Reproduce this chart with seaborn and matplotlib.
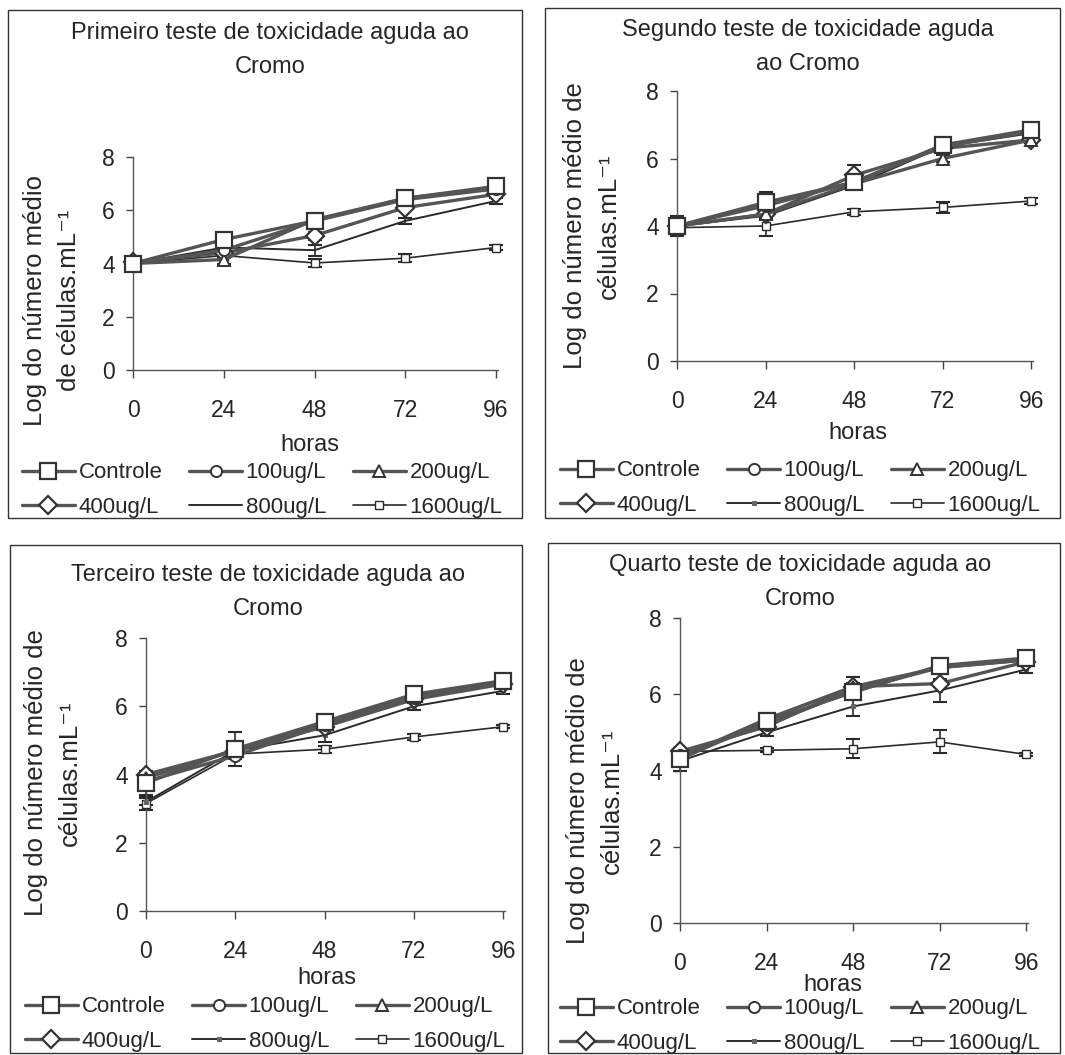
import numpy as np
import pandas as pd
import matplotlib.pyplot as plt
import seaborn as sns
from matplotlib.patches import Rectangle

sns.set_style("white")
plt.rcParams['font.family'] = ['Liberation Sans', 'DejaVu Sans']

horas = [0, 24, 48, 72, 96]
series = ["Controle", "100ug/L", "200ug/L", "400ug/L", "800ug/L", "1600ug/L"]

# mean log cell counts, one row per series (same order as `series`)
teste1 = [[4.0, 4.9, 5.6, 6.45, 6.9],
          [4.0, 4.5, 5.6, 6.4, 6.8],
          [4.0, 4.15, 5.65, 6.45, 6.85],
          [4.05, 4.4, 5.05, 6.1, 6.6],
          [4.0, 4.6, 4.5, 5.6, 6.35],
          [4.0, 4.3, 4.02, 4.2, 4.6]]
teste2 = [[4.0, 4.7, 5.3, 6.4, 6.85],
          [4.0, 4.6, 5.3, 6.35, 6.8],
          [4.0, 4.35, 5.25, 6.0, 6.55],
          [4.0, 4.35, 5.5, 6.3, 6.55],
          [4.0, 4.3, 5.2, 6.35, 6.75],
          [3.95, 4.0, 4.42, 4.55, 4.74]]
teste3 = [[3.75, 4.75, 5.55, 6.35, 6.75],
          [3.8, 4.55, 5.45, 6.25, 6.7],
          [3.9, 4.7, 5.5, 6.3, 6.7],
          [4.0, 4.7, 5.4, 6.2, 6.65],
          [3.2, 4.7, 5.15, 6.0, 6.45],
          [3.15, 4.6, 4.74, 5.1, 5.4]]
teste4 = [[4.3, 5.3, 6.05, 6.75, 6.95],
          [4.4, 5.2, 6.1, 6.7, 6.9],
          [4.35, 5.35, 6.2, 6.7, 6.9],
          [4.5, 5.15, 6.2, 6.28, 6.85],
          [4.25, 5.0, 5.68, 6.1, 6.65],
          [4.5, 4.53, 4.57, 4.75, 4.42]]

# error bar half-widths
erro1 = [[0.15, 0.1, 0.1, 0.1, 0.1],
         [0.1, 0.1, 0.1, 0.1, 0.1],
         [0.1, 0.15, 0.1, 0.1, 0.1],
         [0.1, 0.1, 0.15, 0.1, 0.1],
         [0.1, 0.1, 0.2, 0.1, 0.1],
         [0.1, 0.1, 0.15, 0.15, 0.08]]
erro2 = [[0.3, 0.3, 0.1, 0.1, 0.1],
         [0.1, 0.1, 0.1, 0.1, 0.1],
         [0.1, 0.1, 0.1, 0.1, 0.1],
         [0.1, 0.1, 0.3, 0.1, 0.1],
         [0.1, 0.1, 0.1, 0.1, 0.1],
         [0.1, 0.3, 0.08, 0.15, 0.08]]
erro3 = [[0.35, 0.5, 0.1, 0.1, 0.1],
         [0.1, 0.1, 0.1, 0.1, 0.1],
         [0.1, 0.1, 0.1, 0.1, 0.1],
         [0.1, 0.1, 0.1, 0.1, 0.1],
         [0.1, 0.1, 0.2, 0.1, 0.1],
         [0.2, 0.1, 0.1, 0.1, 0.05]]
erro4 = [[0.3, 0.15, 0.1, 0.15, 0.1],
         [0.1, 0.1, 0.1, 0.1, 0.1],
         [0.1, 0.15, 0.1, 0.15, 0.1],
         [0.1, 0.1, 0.25, 0.1, 0.1],
         [0.1, 0.1, 0.25, 0.3, 0.1],
         [0.1, 0.05, 0.25, 0.3, 0.05]]

titulos = ["Primeiro teste de toxicidade aguda ao\nCromo",
           "Segundo teste de toxicidade aguda\nao Cromo",
           "Terceiro teste de toxicidade aguda ao\nCromo",
           "Quarto teste de toxicidade aguda ao\nCromo"]
ylabels = ["Log do número médio\nde células.mL⁻¹",
           "Log do número médio de\ncélulas.mL⁻¹",
           "Log do número médio de\ncélulas.mL⁻¹",
           "Log do número médio de\ncélulas.mL⁻¹"]

W, H = 1065, 1055
fig = plt.figure(figsize=(W / 100, H / 100), dpi=100)

def fx(px):
    return px / W

def fy(py):
    return 1 - py / H

# pixel layout: axes box (l, r, top, bottom), border box, text anchors
paineis = [
    dict(ax=(133, 498, 157, 370), box=(8, 522, 10, 518), tit=(270, 50),
         yl=(52, 300), xl=(310, 445), leg=(262, 490), dados=teste1, erros=erro1),
    dict(ax=(677, 1033, 91, 361), box=(545, 1060, 8, 518), tit=(808, 47),
         yl=(592, 226), xl=(858, 433), leg=(800, 488), dados=teste2, erros=erro2),
    dict(ax=(146, 505, 638, 911), box=(10, 522, 545, 1053), tit=(268, 592),
         yl=(53, 773), xl=(327, 978), leg=(265, 1024), dados=teste3, erros=erro3),
    dict(ax=(680, 1028, 618, 923), box=(548, 1060, 543, 1053), tit=(800, 582),
         yl=(595, 801), xl=(833, 985), leg=(800, 1026), dados=teste4, erros=erro4),
]

estilos = [
    dict(marker="s", ms=11, lw=2.4, color="#555555", mfc="white", mec="#333333", mew=1.6),
    dict(marker="o", ms=8, lw=2.4, color="#555555", mfc="white", mec="#333333", mew=1.4),
    dict(marker="^", ms=9, lw=2.4, color="#555555", mfc="white", mec="#333333", mew=1.4),
    dict(marker="D", ms=9, lw=2.4, color="#555555", mfc="white", mec="#333333", mew=1.6),
    dict(marker="s", ms=3.5, lw=1.4, color="#2a2a2a", mfc="#666666", mec="#666666", mew=0.8),
    dict(marker="s", ms=5.5, lw=1.2, color="#2a2a2a", mfc="white", mec="#2a2a2a", mew=1.0),
]

for i, p in enumerate(paineis):
    l, r, t, b = p["ax"]
    ax = fig.add_axes([fx(l), fy(b), fx(r - l), (b - t) / H])
    for j, nome in enumerate(series):
        st = dict(estilos[j])
        if i == 0 and j == 4:
            st["marker"] = None
        y = p["dados"][j]
        ax.errorbar(horas, y, yerr=p["erros"][j], fmt="none", ecolor="#2a2a2a",
                    elinewidth=1.2, capsize=5, capthick=1.5, clip_on=False, zorder=2)
        sns.lineplot(x=horas, y=y, ax=ax, label=nome, color=st["color"], lw=st["lw"],
                     marker=st["marker"], markersize=st["ms"], markerfacecolor=st["mfc"],
                     markeredgecolor=st["mec"], markeredgewidth=st["mew"],
                     clip_on=False, zorder=3 + (5 - j))
    ax.set_xlim(0, 96.5)
    ax.set_ylim(0, 8)
    ax.set_xticks(horas)
    ax.set_yticks([0, 2, 4, 6, 8])
    ax.set_xlabel("")
    ax.set_ylabel("")
    ax.tick_params(axis="x", direction="out", length=6, width=1, pad=15,
                   labelsize=16.5, color="#444444", bottom=True)
    ax.tick_params(axis="y", direction="out", length=5, width=1, pad=8,
                   labelsize=16.5, color="#444444", left=True)
    for s in ["top", "right"]:
        ax.spines[s].set_visible(False)
    for s in ["left", "bottom"]:
        ax.spines[s].set_color("#555555")
        ax.spines[s].set_linewidth(1.0)
    ax.patch.set_alpha(0)

    handles, labels = ax.get_legend_handles_labels()
    ax.get_legend().remove()
    ordem = [0, 3, 1, 4, 2, 5]
    fig.legend([handles[k] for k in ordem], [labels[k] for k in ordem],
               loc="center", bbox_to_anchor=(fx(p["leg"][0]), fy(p["leg"][1])),
               ncol=3, frameon=False, fontsize=16, handlelength=2.4,
               columnspacing=1.2, handletextpad=0.15, labelspacing=0.6)

    fig.text(fx(p["tit"][0]), fy(p["tit"][1]), titulos[i], ha="center", va="center",
             fontsize=17, linespacing=1.75)
    fig.text(fx(p["yl"][0]), fy(p["yl"][1]), ylabels[i], ha="center", va="center",
             rotation=90, fontsize=18.5, linespacing=1.5)
    fig.text(fx(p["xl"][0]), fy(p["xl"][1]), "horas", ha="center", va="center", fontsize=17)

    x0, x1, y0, y1 = p["box"]
    fig.patches.append(Rectangle((fx(x0), fy(y1)), fx(x1 - x0), (y1 - y0) / H,
                                 transform=fig.transFigure, fill=False,
                                 edgecolor="#333333", lw=1.0))

fig.savefig("out.png", dpi=100, facecolor="white")
